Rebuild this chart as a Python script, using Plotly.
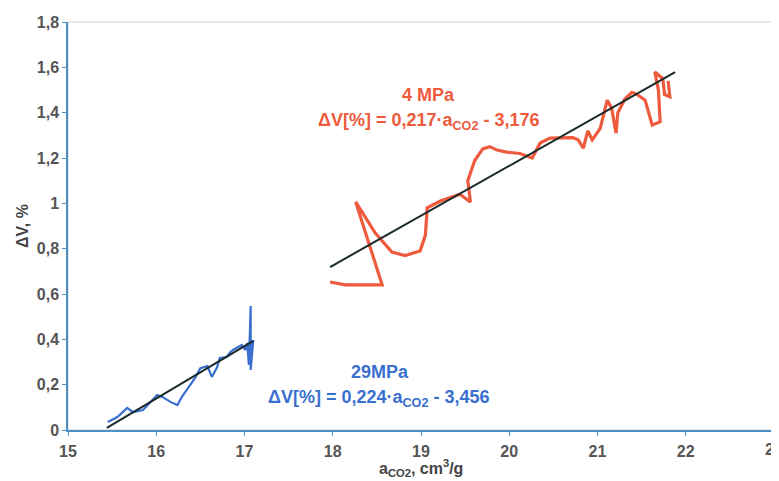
import plotly.graph_objects as go

# 4 MPa series (red)
red_x = [17.97, 18.14, 18.56, 18.26, 18.48, 18.67, 18.82, 18.99, 19.05, 19.07, 19.22, 19.44,
         19.56, 19.53, 19.61, 19.70, 19.78, 19.86, 19.97, 20.12, 20.26, 20.35, 20.46, 20.58,
         20.72, 20.78, 20.84, 20.89, 20.94, 21.03, 21.11, 21.16, 21.21, 21.23, 21.31, 21.39,
         21.45, 21.54, 21.59, 21.62, 21.71, 21.69, 21.65, 21.74, 21.76, 21.82, 21.80]
red_y = [0.653, 0.64, 0.64, 1.006, 0.87, 0.785, 0.77, 0.79, 0.86, 0.98, 1.01, 1.04,
         1.006, 1.10, 1.19, 1.24, 1.25, 1.235, 1.226, 1.22, 1.20, 1.266, 1.288, 1.29,
         1.29, 1.28, 1.244, 1.32, 1.28, 1.33, 1.455, 1.42, 1.31, 1.40, 1.46, 1.49,
         1.48, 1.455, 1.39, 1.345, 1.36, 1.50, 1.58, 1.55, 1.48, 1.47, 1.54]

# 29 MPa series (blue)
blue_x = [15.45, 15.56, 15.67, 15.74, 15.85, 15.93, 16.01, 16.07, 16.16, 16.24, 16.29, 16.36,
          16.44, 16.50, 16.58, 16.63, 16.69, 16.72, 16.80, 16.84, 16.87, 16.93, 16.97, 17.01,
          17.03, 17.05, 17.06, 17.07, 17.07, 17.10]
blue_y = [0.035, 0.057, 0.097, 0.079, 0.088, 0.12, 0.154, 0.146, 0.124, 0.11, 0.146, 0.185,
          0.23, 0.273, 0.282, 0.234, 0.278, 0.318, 0.322, 0.344, 0.353, 0.366, 0.375, 0.353,
          0.384, 0.287, 0.44, 0.547, 0.265, 0.397]

# linear fit lines (end points)
fit_red_x = [17.97, 21.88]
fit_red_y = [0.719, 1.579]
fit_blue_x = [15.44, 17.10]
fit_blue_y = [0.009, 0.393]

x_ticks = [15, 16, 17, 18, 19, 20, 21, 22]
x_last_tick = 23
y_ticks = [0, 0.2, 0.4, 0.6, 0.8, 1.0, 1.2, 1.4, 1.6, 1.8]
y_tick_text = ["0", "0,2", "0,4", "0,6", "0,8", "1", "1,2", "1,4", "1,6", "1,8"]
x_title = "<b>a<sub>CO2</sub>, cm<sup>3</sup>/g</b>"
y_title = "<b>ΔV, %</b>"

RED = "#ee5a3c"
BLUE = "#3a6fd0"
FONT = "Arial, Liberation Sans, sans-serif"
TICKFONT = dict(family=FONT, size=16, color="#555555")
ANNFONT = 18

fig = go.Figure()
fig.add_trace(go.Scatter(x=red_x, y=red_y, mode="lines",
                         line=dict(color=RED, width=3.2), showlegend=False))
fig.add_trace(go.Scatter(x=blue_x, y=blue_y, mode="lines",
                         line=dict(color=BLUE, width=2.2), showlegend=False))
fig.add_trace(go.Scatter(x=fit_red_x, y=fit_red_y, mode="lines",
                         line=dict(color="#1a2a2a", width=2), showlegend=False))
fig.add_trace(go.Scatter(x=fit_blue_x, y=fit_blue_y, mode="lines",
                         line=dict(color="#1a2a2a", width=2), showlegend=False))

# light frame
fig.add_shape(type="rect", xref="paper", yref="paper", x0=0, y0=0, x1=1, y1=1,
              line=dict(color="#d0d0d0", width=1), layer="below")

fig.add_annotation(x=19.08, y=1.478, text="<b>4 MPa</b>", showarrow=False,
                   font=dict(family=FONT, size=ANNFONT, color=RED))
fig.add_annotation(x=19.08, y=1.359,
                   text="<b>ΔV[%] = 0,217·a<sub>CO2</sub> - 3,176</b>", showarrow=False,
                   font=dict(family=FONT, size=ANNFONT, color=RED))
fig.add_annotation(x=18.54, y=0.256, text="<b>29MPa</b>", showarrow=False,
                   font=dict(family=FONT, size=ANNFONT, color=BLUE))
fig.add_annotation(x=18.52, y=0.141,
                   text="<b>ΔV[%] = 0,224·a<sub>CO2</sub> - 3,456</b>", showarrow=False,
                   font=dict(family=FONT, size=ANNFONT, color=BLUE))
# last x tick label sits at the right edge (partly cut, as in the reference)
fig.add_annotation(x=x_last_tick, xref="x", y=0, yref="paper", yanchor="top", yshift=-9,
                   text="<b>%d</b>" % x_last_tick, showarrow=False, font=TICKFONT)
# x axis title, placed below the tick labels
fig.add_annotation(x=0.5, xref="paper", y=0, yref="paper", yanchor="top", yshift=-25,
                   text=x_title, showarrow=False,
                   font=dict(family=FONT, size=16, color="#444444"))

# page body has an 8px margin, so the figure is sized/offset to compensate
fig.update_layout(
    width=771, height=473,
    margin=dict(l=60, r=5, t=14, b=51),
    paper_bgcolor="white", plot_bgcolor="white",
    font=dict(family=FONT, size=12, color="#555555"),
    xaxis=dict(range=[15, 23], tickvals=x_ticks + [x_last_tick],
               ticktext=["<b>%d</b>" % v for v in x_ticks] + [""], automargin=False,
               showgrid=False, zeroline=False, showline=True, linecolor="#4a90c4",
               linewidth=1.5, ticks="outside", ticklen=4, tickcolor="#4a90c4",
               ticklabelstandoff=2, tickfont=TICKFONT),
    yaxis=dict(range=[0, 1.8], tickvals=y_ticks,
               ticktext=["<b>%s</b>" % t for t in y_tick_text], automargin=False,
               showgrid=False, zeroline=False, showline=True, linecolor="#4a90c4",
               linewidth=1.5, ticks="outside", ticklen=4, tickcolor="#4a90c4",
               tickfont=TICKFONT,
               title=dict(text=y_title, standoff=4,
                          font=dict(family=FONT, size=16, color="#444444"))),
)

fig.write_html("out.html")
